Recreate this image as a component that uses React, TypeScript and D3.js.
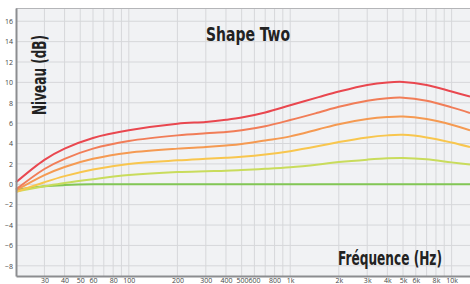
import React, { useRef, useEffect } from "react";
import * as d3 from "d3";

// frequencies (Hz) where the curves were read
const freqs = [20, 30, 40, 60, 100, 200, 300, 400, 500, 700, 1000, 1500, 2000, 3000, 4000, 5000, 7000, 10000, 13000];

// levels in dB, strongest to weakest
const curveRed = [0.2, 2.4, 3.5, 4.55, 5.3, 5.95, 6.12, 6.33, 6.55, 7.05, 7.75, 8.55, 9.1, 9.75, 10.0, 10.05, 9.75, 9.1, 8.6];
const curveOrangeRed = [-0.5, 1.5, 2.5, 3.5, 4.25, 4.8, 5.0, 5.12, 5.3, 5.7, 6.3, 7.05, 7.6, 8.2, 8.45, 8.5, 8.2, 7.55, 7.0];
const curveOrange = [-0.6, 0.9, 1.7, 2.5, 3.1, 3.5, 3.65, 3.8, 3.95, 4.3, 4.7, 5.4, 5.9, 6.4, 6.6, 6.65, 6.4, 5.85, 5.3];
const curveYellow = [-0.75, 0.2, 0.8, 1.45, 2.0, 2.35, 2.5, 2.6, 2.7, 2.92, 3.25, 3.75, 4.15, 4.6, 4.8, 4.85, 4.6, 4.1, 3.65];
const curveLime = [-0.7, -0.2, 0.13, 0.5, 0.9, 1.2, 1.28, 1.33, 1.4, 1.52, 1.68, 1.95, 2.18, 2.42, 2.55, 2.58, 2.45, 2.15, 1.95];
const curveGreen = [-0.55, -0.2, -0.08, 0, 0, 0, 0, 0, 0, 0, 0, 0, 0, 0, 0, 0, 0, 0, 0];

const seriesList = [curveGreen, curveLime, curveYellow, curveOrange, curveOrangeRed, curveRed];
const seriesColors = ["#82c655", "#c9dc5c", "#f8c64e", "#f59a52", "#f17d58", "#e9474f"];

const yTicks = [-8, -6, -4, -2, 0, 2, 4, 6, 8, 10, 12, 14, 16];
const xTicks = [30, 40, 50, 60, 80, 100, 200, 300, 400, 500, 800, 1000, 2000, 3000, 4000, 5000, 6000, 8000, 10000];
const xTickLabels = ["30", "40", "50", "60", "80", "100", "200", "300", "400", "500600", "800", "1k", "2k", "3k", "4k", "5k", "6k", "8k", "10k"];

function App() {
  const svgRef = useRef(null);

  useEffect(() => {
    const width = 470;
    const height = 284;
    const margin = { top: 8, right: 0, bottom: 8, left: 16 };
    const innerW = width - margin.left - margin.right;
    const innerH = height - margin.top - margin.bottom;

    const svg = d3.select(svgRef.current);
    svg.selectAll("*").remove();
    svg.attr("width", width).attr("height", height);

    const x = d3.scaleLog().domain([20, 13000]).range([0, innerW]);
    const y = d3.scaleLinear().domain([-9, 17.3]).range([innerH, 0]);

    const g = svg.append("g").attr("transform", `translate(${margin.left},${margin.top})`);

    g.append("rect").attr("width", innerW).attr("height", innerH).attr("fill", "#f1f2f4");

    // vertical grid: every 1..9 multiple per decade
    const gridFreqs = [];
    [10, 100, 1000, 10000].forEach((d) => {
      for (let k = 1; k < 10; k++) {
        const f = d * k;
        if (f > 20 && f < 13000) gridFreqs.push(f);
      }
    });
    g.append("g")
      .selectAll("line")
      .data(gridFreqs)
      .enter()
      .append("line")
      .attr("x1", (d) => x(d))
      .attr("x2", (d) => x(d))
      .attr("y1", 0)
      .attr("y2", innerH)
      .attr("stroke", "#d6d7da")
      .attr("stroke-width", 1);

    g.append("g")
      .selectAll("line")
      .data(yTicks)
      .enter()
      .append("line")
      .attr("x1", 0)
      .attr("x2", innerW)
      .attr("y1", (d) => y(d))
      .attr("y2", (d) => y(d))
      .attr("stroke", "#d6d7da")
      .attr("stroke-width", 1);

    // top border
    g.append("line").attr("x1", 0).attr("x2", innerW).attr("y1", 0.5).attr("y2", 0.5)
      .attr("stroke", "#b4b5b8").attr("stroke-width", 1);

    const line = d3
      .line()
      .x((d) => x(d[0]))
      .y((d) => y(d[1]))
      .curve(d3.curveCatmullRom.alpha(0.5));

    seriesList.forEach((vals, i) => {
      g.append("path")
        .datum(freqs.map((f, j) => [f, vals[j]]))
        .attr("fill", "none")
        .attr("stroke", seriesColors[i])
        .attr("stroke-width", 2)
        .attr("d", line);
    });

    // axes
    const yAxis = d3.axisLeft(y).tickValues(yTicks).tickSize(0).tickPadding(3);
    const ya = g.append("g").call(yAxis);
    ya.select(".domain").attr("stroke", "#8c8d90").attr("stroke-width", 2);
    ya.selectAll("text")
      .style("font-family", "'Open Sans', sans-serif")
      .style("font-size", "7px")
      .attr("fill", "#444");

    const xAxis = d3
      .axisBottom(x)
      .tickValues(xTicks)
      .tickSize(0)
      .tickPadding(2)
      .tickFormat((d, i) => xTickLabels[i]);
    const xa = g.append("g").attr("transform", `translate(0,${innerH})`).call(xAxis);
    xa.select(".domain").attr("stroke", "#8c8d90").attr("stroke-width", 2);
    xa.selectAll("text")
      .style("font-family", "'Open Sans', sans-serif")
      .style("font-size", "7px")
      .attr("fill", "#444");
    // "500600" is one label in the picture, centred between 500 and 600
    xa.selectAll(".tick")
      .filter((d) => d === 500)
      .select("text")
      .attr("x", (x(600) - x(500)) / 2);

    const titleFont = "'Liberation Sans Narrow', 'DejaVu Sans Condensed', sans-serif";

    svg.append("text")
      .attr("x", 248)
      .attr("y", 41)
      .attr("text-anchor", "middle")
      .attr("textLength", 84)
      .attr("lengthAdjust", "spacingAndGlyphs")
      .style("font-family", titleFont)
      .style("font-weight", "bold")
      .style("font-size", "20px")
      .attr("fill", "#222")
      .text("Shape Two");

    svg.append("text")
      .attr("transform", "translate(46,75) rotate(-90)")
      .attr("text-anchor", "middle")
      .attr("textLength", 80)
      .attr("lengthAdjust", "spacingAndGlyphs")
      .style("font-family", titleFont)
      .style("font-weight", "bold")
      .style("font-size", "19px")
      .attr("fill", "#222")
      .text("Niveau (dB)");

    svg.append("text")
      .attr("x", 390)
      .attr("y", 265)
      .attr("text-anchor", "middle")
      .attr("textLength", 104)
      .attr("lengthAdjust", "spacingAndGlyphs")
      .style("font-family", titleFont)
      .style("font-weight", "bold")
      .style("font-size", "20px")
      .attr("fill", "#222")
      .text("Fréquence (Hz)");
  }, []);

  return (
    <svg ref={svgRef} style={{ position: "fixed", left: 0, top: 0, background: "#fff" }}></svg>
  );
}

export default App;
